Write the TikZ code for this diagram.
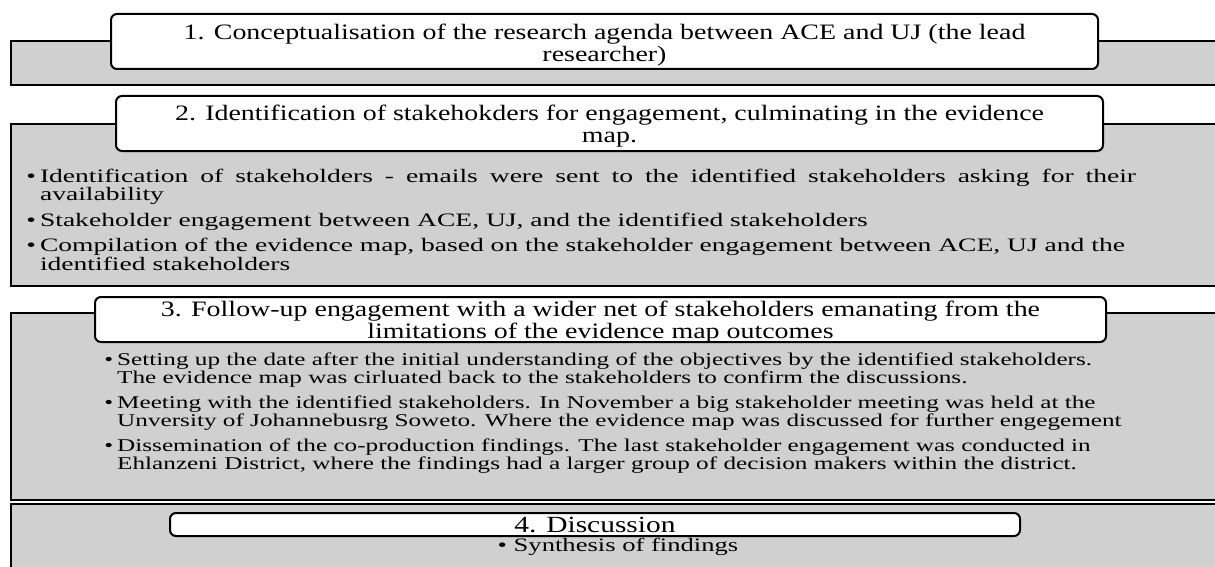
\documentclass[tikz,border=0pt]{standalone}
\usepackage{fontspec}
\setmainfont{Liberation Serif}
\newfontfamily\headserif[FakeStretch=1.27]{Liberation Serif}
\newfontfamily\wideserif[FakeStretch=1.45]{Liberation Serif}
\newfontfamily\listserif[FakeStretch=1.4]{Liberation Serif}
\usepackage{tikz}
\usetikzlibrary{positioning}
\definecolor{panelgray}{RGB}{208,208,208}
\tikzset{
  panel/.style={draw=black, line width=1pt, fill=panelgray},
  tab/.style={draw=black, line width=1pt, fill=white, rounded corners=3pt, inner sep=0pt},
  heading/.style={inner sep=0pt, align=center, font=\headserif\fontsize{11}{11}\selectfont},
  points/.style={inner sep=0pt, anchor=base west}
}
\newcommand{\bul}{\textbullet}

\begin{document}
\begin{tikzpicture}[x=0.5pt,y=-0.5pt]
\clip (0,0) rectangle (1215,567);
\draw[panel] (11,41) rectangle (1240,85);
\node[tab, minimum width=493.5pt, minimum height=27.5pt] (tab1) at (604.5,41.5) {};
\node[heading] (head1) at ([yshift=-1.6pt]tab1.center)
  {1. Conceptualisation of the research agenda between ACE and UJ (the lead\\researcher)};

\draw[panel] (11,124) rectangle (1240,286);
\node[tab, minimum width=493.5pt, minimum height=27.5pt] (tab2) at (609.5,123.5) {};
\node[heading] (head2) at ([yshift=-1.5pt]tab2.center)
  {2. Identification of stakehokders for engagement, culminating in the evidence\\map.};
\node[points, font=\wideserif\fontsize{9.5}{9.5}\selectfont] (list2) at (26,182) {\begin{tabular}[t]{@{}l@{\hspace{2pt}}l@{}}
  \bul & \makebox[548pt][s]{Identification of stakeholders - emails were sent to the identified stakeholders asking for their}\\
       & availability\\[3pt]
  \bul & Stakeholder engagement between ACE, UJ, and the identified stakeholders\\[3pt]
  \bul & Compilation of the evidence map, based on the stakeholder engagement between ACE, UJ and the\\
       & identified stakeholders
\end{tabular}};

\draw[panel] (11,313) rectangle (1240,500);
\node[tab, minimum width=505.5pt, minimum height=22.5pt] (tab3) at (600.5,319.5) {};
\node[heading] (head3) at ([yshift=-1.2pt]tab3.center)
  {3. Follow-up engagement with a wider net of stakeholders emanating from the\\limitations of the evidence map outcomes};
\node[points, font=\listserif\fontsize{9}{9}\selectfont] (list3) at (104,365) {\begin{tabular}[t]{@{}l@{\hspace{2pt}}l@{}}
  \bul & Setting up the date after the initial understanding of the objectives by the identified stakeholders.\\
       & The evidence map was cirluated back to the stakeholders to confirm the discussions.\\[3.5pt]
  \bul & Meeting with the identified stakeholders. In November a big stakeholder meeting was held at the\\
       & Unversity of Johannebusrg Soweto. Where the evidence map was discussed for further engegement\\[3.5pt]
  \bul & Dissemination of the co-production findings. The last stakeholder engagement was conducted in\\
       & Ehlanzeni District, where the findings had a larger group of decision makers within the district.
\end{tabular}};

\draw[panel] (11,504) rectangle (1240,600);
\node[tab, minimum width=425pt, minimum height=11.5pt] (tab4) at (595,524.5) {};
\node[heading, font=\headserif\fontsize{11.6}{11}\selectfont] (head4) at (tab4.center) {4. Discussion};
\node[inner sep=0pt, font=\listserif\fontsize{9.5}{9.5}\selectfont] (list4) at (618,547) {\bul\ Synthesis of findings};
\end{tikzpicture}
\end{document}
